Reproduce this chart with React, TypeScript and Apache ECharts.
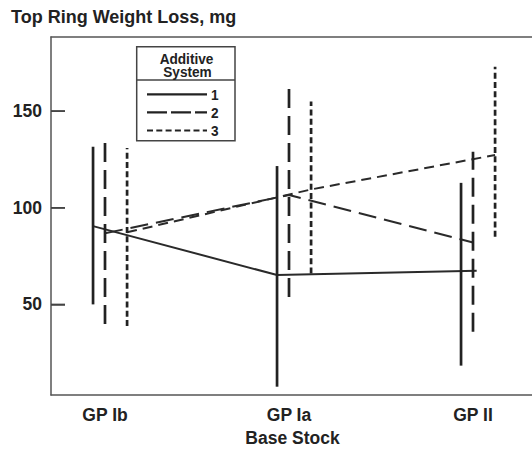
import React, { useEffect, useRef } from "react";
import * as echarts from "echarts";

const categories = ["GP Ib", "GP Ia", "GP II"];
const seriesNames = ["1", "2", "3"];
const means1 = [90.5, 65.2, 67.4];
const lows1 = [50, 7.4, 18.3];
const highs1 = [131.6, 121.6, 112.9];
const means2 = [86.8, 106.6, 82];
const lows2 = [39.8, 53.8, 35.9];
const highs2 = [133.5, 162.6, 129];
const means3 = [87.3, 109.5, 127.3];
const lows3 = [38.8, 66, 85];
const highs3 = [131, 155, 173];
const yTicks = [50, 100, 150];

const FONT = "'Liberation Sans', Arial, Helvetica, sans-serif";
const INK = "#222";
const FRAME = "#555";
const X_MIN = -0.2935;
const X_MAX = 2.3315;

export default function App() {
  const ref = useRef<HTMLDivElement>(null);
  useEffect(() => {
    if (!ref.current) return;
    const chart = echarts.init(ref.current, undefined, { renderer: "svg" });
    const all = [
      { means: means1, lows: lows1, highs: highs1, barOff: [-0.065, -0.065, -0.065], lineOff: [-0.065, -0.065, 0.02], barDash: null as any, lineDash: null as any },
      { means: means2, lows: lows2, highs: highs2, barOff: [0, 0, 0], lineOff: [0, 0, 0], barDash: [19, 8], lineDash: [18, 8] },
      { means: means3, lows: lows3, highs: highs3, barOff: [0.12, 0.12, 0.12], lineOff: [0.12, 0.12, 0.12], barDash: [6, 3.3], lineDash: [10, 6] },
    ];
    const series: any[] = [];
    all.forEach((s, si) => {
      series.push({
        type: "line",
        name: seriesNames[si],
        data: s.means.map((m, i) => [i + s.lineOff[i], m]),
        symbol: "none",
        lineStyle: { color: "#2a2a2a", width: 2, type: s.lineDash ? s.lineDash : "solid" },
        z: 2,
      });
      series.push({
        type: "custom",
        name: seriesNames[si] + "-bars",
        data: s.lows.map((lo, i) => [i + s.barOff[i], lo, s.highs[i]]),
        renderItem: (params: any, api: any) => {
          const x = api.value(0);
          const p1 = api.coord([x, api.value(1)]);
          const p2 = api.coord([x, api.value(2)]);
          return {
            type: "line",
            shape: { x1: p1[0], y1: p1[1], x2: p2[0], y2: p2[1] },
            style: { stroke: INK, lineWidth: 2.7, lineDash: s.barDash || undefined, fill: null },
          };
        },
        z: 3,
      });
    });
    // inward y-axis tick marks, drawn as a thin rectangle from the plot's left edge
    series.push({
      type: "custom",
      name: "yticks",
      data: yTicks.map((v) => [0, v]),
      renderItem: (params: any, api: any) => {
        const p = api.coord([0, api.value(1)]);
        const left = params.coordSys.x;
        return {
          type: "rect",
          shape: { x: left, y: p[1] - 0.75, width: 14, height: 1.5 },
          style: { fill: "#444", stroke: null },
        };
      },
      z: 5,
    });

    const lx = 136.7, ly = 46.7, lw = 98.3, lh = 94;
    const legendLines = [
      { y: 94.3, dash: null as any },
      { y: 112.3, dash: [20, 4] },
      { y: 130.5, dash: [6, 3.3] },
    ];
    const graphic: any[] = [
      { type: "rect", shape: { x: lx, y: ly, width: lw, height: lh }, style: { fill: "#fff", stroke: "#444", lineWidth: 1.5 }, z: 10 },
      { type: "line", shape: { x1: lx, y1: 80, x2: lx + lw, y2: 80 }, style: { stroke: "#444", lineWidth: 1.5 }, z: 11 },
      { type: "text", x: 186.5, y: 58.5, scaleX: 0.88, style: { text: "Additive", font: `bold 15.5px ${FONT}`, fill: INK, align: "center", verticalAlign: "middle" }, z: 11 },
      { type: "text", x: 187.5, y: 71.5, scaleX: 0.88, style: { text: "System", font: `bold 15.5px ${FONT}`, fill: INK, align: "center", verticalAlign: "middle" }, z: 11 },
    ];
    legendLines.forEach((l, i) => {
      graphic.push({ type: "line", shape: { x1: 147, y1: l.y, x2: 207, y2: l.y }, style: { stroke: INK, lineWidth: 2.2, lineDash: l.dash || undefined }, z: 11 });
      graphic.push({ type: "text", x: 211, y: l.y, scaleX: 0.88, style: { text: seriesNames[i], font: `bold 15.5px ${FONT}`, fill: INK, align: "left", verticalAlign: "middle" }, z: 11 });
    });

    const labelFont = { fontFamily: FONT, fontSize: 17.5, fontWeight: "bold", color: INK };

    chart.setOption({
      animation: false,
      backgroundColor: "#fff",
      title: {
        text: "Top Ring Weight Loss, mg",
        left: 11,
        top: 8,
        padding: 0,
        textStyle: { fontFamily: FONT, fontSize: 18, fontWeight: "bold", color: INK },
      },
      grid: { left: 51, right: -2, top: 37, bottom: 54, show: false, containLabel: false, outerBoundsMode: "none" },
      xAxis: [
        {
          type: "value",
          position: "bottom",
          min: X_MIN,
          max: X_MAX,
          name: "Base Stock",
          nameLocation: "middle",
          nameGap: 34,
          nameTextStyle: labelFont,
          axisLine: { show: true, onZero: false, lineStyle: { color: FRAME, width: 1.5 } },
          axisTick: { show: false },
          splitLine: { show: false },
          axisLabel: {
            customValues: [0, 1, 2],
            formatter: (v: number) => categories[Math.round(v)] ?? "",
            ...labelFont,
            margin: 11,
          },
        },
        {
          type: "value",
          position: "top",
          min: X_MIN,
          max: X_MAX,
          axisLine: { show: true, onZero: false, lineStyle: { color: FRAME, width: 1.5 } },
          axisTick: { show: false },
          axisLabel: { show: false },
          splitLine: { show: false },
        },
      ],
      yAxis: {
        type: "value",
        position: "left",
        min: 3.1,
        max: 188.4,
        axisLine: { show: true, onZero: false, lineStyle: { color: FRAME, width: 1.5 } },
        splitLine: { show: false },
        axisTick: { show: true, inside: true, length: 14, customValues: yTicks, lineStyle: { color: "#444", width: 1.5 } },
        axisLabel: {
          customValues: yTicks,
          ...labelFont,
          margin: 9,
        },
      },
      graphic,
      series,
    });

    return () => chart.dispose();
  }, []);
  return <div ref={ref} style={{ position: "fixed", left: 0, top: 0, width: 532, height: 449 }} />;
}
